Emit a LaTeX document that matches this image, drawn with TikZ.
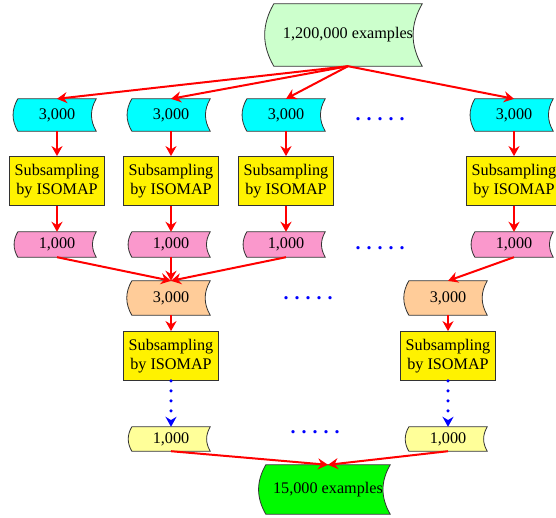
\documentclass[tikz,border=0pt]{standalone}
\usepackage{fontspec}
\setmainfont{Liberation Serif}
\usepackage{xcolor}
\usepackage{tikz}
\usetikzlibrary{arrows.meta,backgrounds}

\definecolor{srcgreen}{RGB}{204,255,204}
\definecolor{incyan}{RGB}{0,255,255}
\definecolor{outpink}{RGB}{250,152,204}
\definecolor{midpeach}{RGB}{255,204,153}
\definecolor{reslight}{RGB}{255,255,153}
\definecolor{finalgreen}{RGB}{0,250,0}

% outline with a bulging left side and a hollow right side
\newcommand{\scrollbox}[2]{\draw[fill=#2, draw=black!80, line width=0.8pt] (#1.north west) to[bend right=30] (#1.south west) -- (#1.south east) to[bend left=30] (#1.north east) -- cycle;}
\newcommand{\dotrow}{.\hspace{6pt}.\hspace{6pt}.\hspace{6pt}.\hspace{6pt}.}

\begin{document}
\begin{tikzpicture}[x=1pt, y=-1pt,
  font=\fontsize{16.2}{18.5}\selectfont,
  scroll/.style={minimum width=78pt, minimum height=#1, inner sep=0pt},
  scroll/.default=30pt,
  isobox/.style={draw=black!80, line width=0.8pt, fill=yellow, minimum width=95pt, minimum height=49pt, inner sep=1pt, align=center},
  flow/.style={red, line width=2pt, -{Stealth[length=10pt, width=11pt]}},
  skip/.style={blue, line width=3.5pt, line cap=round, dash pattern=on 0pt off 10pt, -{Stealth[length=10pt, width=11pt]}},
  gap/.style={text=blue, font=\fontsize{20}{20}\selectfont\bfseries}]

\useasboundingbox (0,0) rectangle (556,517);

\node[scroll=62pt, minimum width=148pt] (source) at (348,35) {1,200,000 examples};

\node[scroll=32pt] (in1) at (57,115) {3,000};
\node[scroll=32pt] (in2) at (171,115) {3,000};
\node[scroll=32pt] (in3) at (286,115) {3,000};
\node[scroll=32pt] (in4) at (514,115) {3,000};
\node[gap] (gap1) at (380,119) {\dotrow};

\node[isobox] (iso1) at (57,181) {Subsampling\\by ISOMAP};
\node[isobox] (iso2) at (171,181) {Subsampling\\by ISOMAP};
\node[isobox] (iso3) at (286,181) {Subsampling\\by ISOMAP};
\node[isobox] (iso4) at (514,181) {Subsampling\\by ISOMAP};

\node[scroll=25pt] (out1) at (57,244.5) {1,000};
\node[scroll=25pt] (out2) at (171,244.5) {1,000};
\node[scroll=25pt] (out3) at (286,244.5) {1,000};
\node[scroll=25pt] (out4) at (514,244.5) {1,000};
\node[gap] (gap2) at (380,248) {\dotrow};

\node[scroll=34pt] (mid1) at (171,298) {3,000};
\node[scroll=34pt] (mid2) at (448,298) {3,000};
\node[gap] (gap3) at (308,298) {\dotrow};

\node[isobox] (iso5) at (171,356) {Subsampling\\by ISOMAP};
\node[isobox] (iso6) at (448,356) {Subsampling\\by ISOMAP};

\node[scroll=24pt] (res1) at (171,439) {1,000};
\node[scroll=24pt] (res2) at (448,439) {1,000};
\node[gap] (gap4) at (315,432) {\dotrow};

\node[scroll=49pt, minimum width=124pt] (final) at (328,489.5) {15,000 examples};

\begin{scope}[on background layer]
\scrollbox{source}{srcgreen}
\scrollbox{in1}{incyan}
\scrollbox{in2}{incyan}
\scrollbox{in3}{incyan}
\scrollbox{in4}{incyan}
\scrollbox{out1}{outpink}
\scrollbox{out2}{outpink}
\scrollbox{out3}{outpink}
\scrollbox{out4}{outpink}
\scrollbox{mid1}{midpeach}
\scrollbox{mid2}{midpeach}
\scrollbox{res1}{reslight}
\scrollbox{res2}{reslight}
\scrollbox{final}{finalgreen}
\end{scope}

\foreach \i in {1,...,4} {
  \draw[flow] (source.south) -- (in\i.north);
  \draw[flow] (in\i) -- (iso\i);
  \draw[flow] (iso\i) -- (out\i);
}

\draw[flow] (out1.south) -- (mid1.north);
\draw[flow] (out2.south) -- (mid1.north);
\draw[flow] (out3.south) -- (mid1.north);
\draw[flow] (out4.south) -- (mid2.north);

\draw[flow] (mid1) -- (iso5);
\draw[flow] (mid2) -- (iso6);
\draw[skip] (iso5) -- (res1);
\draw[skip] (iso6) -- (res2);

\draw[flow] (res1.south) -- (final.north);
\draw[flow] (res2.south) -- (final.north);

\end{tikzpicture}
\end{document}
